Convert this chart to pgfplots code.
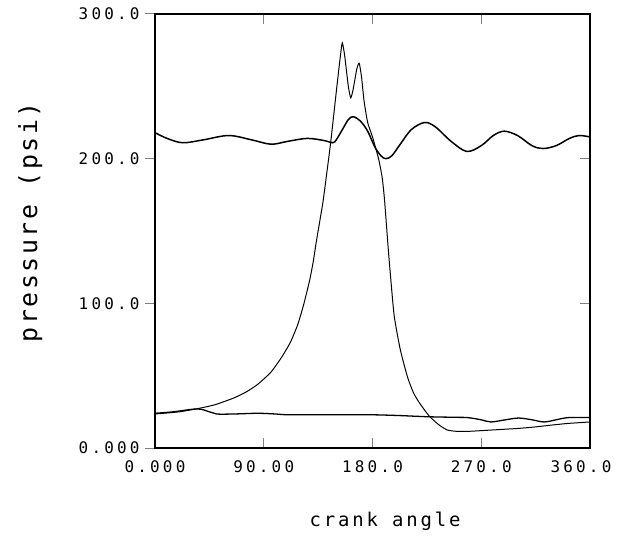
\documentclass[border=0pt]{standalone}
\usepackage{fontspec}
\usepackage{pgfplots}
\pgfplotsset{compat=1.18}
\newfontfamily\tickfont[LetterSpace=20]{DejaVu Sans Mono}
\newfontfamily\xlabfont[LetterSpace=15]{DejaVu Sans Mono}
\newfontfamily\ylabfont[LetterSpace=10]{DejaVu Sans Mono}

% three pressure traces over one crank revolution
\pgfplotstableread{
x y
0 218
10 214
23 211
40 213
61 216
80 213
96 210
110 212
126 214
140 212.5
147 211
150 213
155 220
160 227
164 229
170 226
176 219
182 208
187 202
191 200
196 202
203 210
212 220
223 225
232 222
245 212
258 205
270 209
280 216
289 219
300 216
312 209
321 207
332 209
343 214
351 216
360 215
}\traceA

\pgfplotstableread{
x y
0 23.5
20 25
37 27.5
50 30
65 34.5
75 38.5
85 44
96 52.5
105 63
112 73
118 85
123 99
128 116
131 129
133 140
136 155
139 170
142 189
145.5 212
150 246
153 268
155 280
157 271
160 250
162 242
164 248
167 262
169 266
171 256
173 240
176 225
180 215
185 200
188 187
190 171
193 138
195 118
198 91
203 68
209 49
214 38
219 31
227 22
235 16
242 12.4
250 11.5
259 11.5
270 12
278 12.4
290 13
300 13.5
314 14.5
330 16
342 17
360 18
}\traceB

\pgfplotstableread{
x y
0 24
15 25
35 27
45 25
51 23.5
65 23.5
85 24
100 23.5
110 23
140 23
176 23
200 22.5
226 21.6
250 21.2
259 21
270 19.5
278 18
290 19.5
301 20.7
312 19.5
322 18
332 19.5
342 21
360 21
}\traceC

\begin{document}
\begin{tikzpicture}
\pgfplotsset{
  plotframe/.style={
    scale only axis, width=435bp, height=434bp,
    xmin=0, xmax=360, ymin=0, ymax=300,
    axis line style={line width=1.1pt},
    major tick style={line width=1.0pt},
    major tick length=10bp,
    ticklabel style={font=\tickfont\fontsize{16}{16}\selectfont},
  }
}
\begin{axis}[
  plotframe, name=ax,
  tick align=inside,
  xtick={0,90,180,270,360},
  xticklabels={0.000,90.00,180.0,270.0,{360.0\hspace*{18bp}}},
  xtick pos=both, xticklabel pos=bottom,
  xticklabel style={yshift=-9bp},
  ytick={100,200}, ytick pos=right, yticklabels={},
  xlabel={\xlabfont\fontsize{19}{19}\selectfont crank angle},
  xlabel style={at={(axis description cs:0.529,-0.17)}, anchor=center},
]
\addplot[black, line width=1.5pt, smooth, tension=0.55] table {\traceA};
\addplot[black, line width=1.0pt, smooth, tension=0.35] table {\traceB};
\addplot[black, line width=1.3pt, smooth, tension=0.55] table {\traceC};
\end{axis}
\begin{axis}[
  plotframe,
  tick align=outside,
  xtick=\empty,
  ytick={0,100,200,300},
  yticklabels={0.000,100.0,200.0,300.0},
  ytick pos=left,
  yticklabel style={xshift=-2bp},
  ylabel={\ylabfont\fontsize{25}{25}\selectfont pressure (psi)},
  ylabel style={at={(axis description cs:-0.287,0.52)}, anchor=center, rotate=0},
]
\end{axis}
\pgfresetboundingbox
\path ([shift={(-155bp,-97bp)}]ax.south west) rectangle ([shift={(28bp,14bp)}]ax.north east);
\end{tikzpicture}
\end{document}
